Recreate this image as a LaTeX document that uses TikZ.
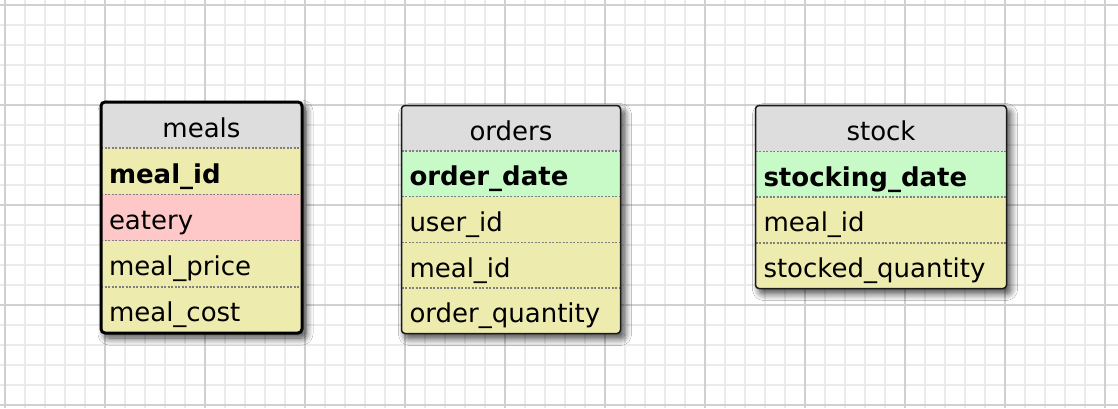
\documentclass[tikz,border=0pt]{standalone}
\usepackage{fontspec}
\setmainfont{DejaVu Sans}
\usetikzlibrary{shadows.blur}
\definecolor{hdrc}{HTML}{DDDDDD}
\definecolor{rowc}{HTML}{EEEBAE}
\definecolor{keyc}{HTML}{C8FAC8}
\definecolor{pinkc}{HTML}{FFC8C8}
\definecolor{minorc}{HTML}{EBEBEB}
\definecolor{majorc}{HTML}{D0D0D0}
\definecolor{sepc}{HTML}{808080}
\definecolor{edgec}{HTML}{1A1A1A}
\begin{document}
\begin{tikzpicture}[x=1pt,y=-1pt,
  minorline/.style={draw=minorc,line width=2pt},
  majorline/.style={draw=majorc,line width=2pt},
  tablebox/.style={fill=white,draw=none,rounded corners=4pt,outer sep=0pt,inner sep=0pt,anchor=north west,
    blur shadow={shadow xshift=4pt,shadow yshift=-5pt,shadow blur radius=7pt,shadow blur steps=10,shadow opacity=75}},
  rowbox/.style 2 args={text width=#1,minimum height=#2,inner xsep=8pt,inner ysep=0pt,outer sep=0pt,
    anchor=north west,align=left,text height=27pt,text depth=3pt,font=\fontsize{26pt}{30pt}\selectfont},
  hdrbox/.style 2 args={rowbox={#1}{#2},align=center,fill=hdrc},
  sepline/.style={draw=sepc,line width=1.5pt,dash pattern=on 2pt off 1.5pt},
  thickedge/.style={draw=black,line width=3pt,rounded corners=4pt},
  thinedge/.style={draw=edgec,line width=1.5pt,rounded corners=3.5pt}]
\useasboundingbox (0,0) rectangle (1118,408);
\fill[white] (0,0) rectangle (1118,408);
% grid
\foreach \g in {25,45,65,85} {
  \foreach \m in {0,100,...,1000} {
    \draw[minorline] (\g+\m,0) -- (\g+\m,408);
  }
  \foreach \m in {0,100,200,300} {
    \draw[minorline] (0,\g+\m) -- (1118,\g+\m);
  }
}
\foreach \m in {5,105,...,1105} \draw[majorline] (\m,0) -- (\m,408);
\foreach \m in {5,105,205,305,405} \draw[majorline] (0,\m) -- (1118,\m);

% ---------- meals ----------
\node[tablebox,minimum width=201pt,minimum height=231pt] (meals) at (101,102) {};
\begin{scope}
\clip[rounded corners=4pt] (meals.north west) rectangle (meals.south east);
\node[hdrbox={185pt}{46.2pt}] (meals-h) at (101,102) {meals};
\node[rowbox={185pt}{46.2pt},fill=rowc] (meals-1) at (101,148.2) {\bfseries meal\_id};
\node[rowbox={185pt}{46.2pt},fill=pinkc] (meals-2) at (101,194.4) {eatery};
\node[rowbox={185pt}{46.2pt},fill=rowc] (meals-3) at (101,240.6) {meal\_price};
\node[rowbox={185pt}{46.2pt},fill=rowc] (meals-4) at (101,286.8) {meal\_cost};
\end{scope}
\foreach \r in {h,1,2,3} \draw[sepline] (meals-\r.south west) -- (meals-\r.south east);
\draw[thickedge] (meals.north west) rectangle (meals.south east);

% ---------- orders ----------
\node[tablebox,minimum width=219pt,minimum height=228pt] (orders) at (401.5,105.5) {};
\begin{scope}
\clip[rounded corners=3.5pt] (orders.north west) rectangle (orders.south east);
\node[hdrbox={203pt}{45.6pt}] (orders-h) at (401.5,105.5) {orders};
\node[rowbox={203pt}{45.6pt},fill=keyc] (orders-1) at (401.5,151.1) {\bfseries order\_date};
\node[rowbox={203pt}{45.6pt},fill=rowc] (orders-2) at (401.5,196.7) {user\_id};
\node[rowbox={203pt}{45.6pt},fill=rowc] (orders-3) at (401.5,242.3) {meal\_id};
\node[rowbox={203pt}{45.6pt},fill=rowc] (orders-4) at (401.5,287.9) {order\_quantity};
\end{scope}
\foreach \r in {h,1,2,3} \draw[sepline] (orders-\r.south west) -- (orders-\r.south east);
\draw[thinedge] (orders.north west) rectangle (orders.south east);

% ---------- stock ----------
\node[tablebox,minimum width=251pt,minimum height=183pt] (stock) at (755.5,105.5) {};
\begin{scope}
\clip[rounded corners=3.5pt] (stock.north west) rectangle (stock.south east);
\node[hdrbox={235pt}{45.75pt}] (stock-h) at (755.5,105.5) {stock};
\node[rowbox={235pt}{45.75pt},fill=keyc] (stock-1) at (755.5,151.25) {\bfseries stocking\_date};
\node[rowbox={235pt}{45.75pt},fill=rowc] (stock-2) at (755.5,197) {meal\_id};
\node[rowbox={235pt}{45.75pt},fill=rowc] (stock-3) at (755.5,242.75) {stocked\_quantity};
\end{scope}
\foreach \r in {h,1,2} \draw[sepline] (stock-\r.south west) -- (stock-\r.south east);
\draw[thinedge] (stock.north west) rectangle (stock.south east);
\end{tikzpicture}
\end{document}
